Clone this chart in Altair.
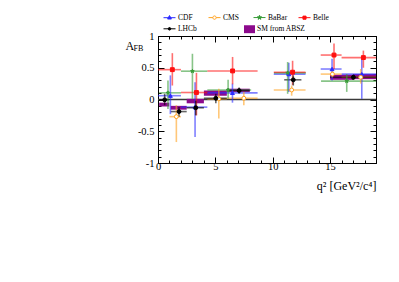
import altair as alt
import pandas as pd

# ---------------- data ----------------
EXPS = ["CDF", "CMS", "BaBar", "Belle", "LHCb"]
LINE_COLORS = ["#2b2bff", "#ffa21f", "#389c38", "#ff1010", "#000000"]
FILL_COLORS = ["#2b2bff", "#ffffff", "#389c38", "#ff1010", "#000000"]
SM_COLOR = "#8c0a8c"

# CDF
cdf_q = [1.08, 3.23, 6.49, 11.40, 15.17, 17.76]
cdf_A = [0.06, -0.12, 0.105, 0.40, 0.48, 0.40]
cdf_lo = [0.0, 2.0, 4.3, 10.09, 14.18, 16.0]
cdf_hi = [2.0, 4.3, 8.68, 12.86, 16.0, 19.0]
cdf_Alo = [-0.23, -0.59, -0.05, 0.12, 0.30, 0.01]
cdf_Ahi = [0.38, 0.27, 0.25, 0.58, 0.64, 0.64]

# CMS
cms_q = [1.60, 5.30, 7.48, 11.65, 15.20, 17.67]
cms_A = [-0.27, 0.01, 0.02, 0.15, 0.40, 0.35]
cms_lo = [1.0, 4.3, 6.0, 10.09, 14.18, 16.0]
cms_hi = [2.0, 6.0, 8.68, 12.86, 16.0, 19.0]
cms_Alo = [-0.67, -0.30, -0.09, 0.06, 0.35, 0.25]
cms_Ahi = [-0.09, 0.17, 0.12, 0.22, 0.45, 0.48]

# BaBar
bab_q = [0.87, 3.00, 6.11, 11.30, 16.45]
bab_A = [0.105, 0.446, 0.15, 0.42, 0.29]
bab_lo = [0.1, 2.0, 4.3, 10.11, 14.21]
bab_hi = [2.0, 4.3, 8.12, 12.89, 19.0]
bab_Alo = [-0.15, 0.01, 0.01, 0.09, 0.12]
bab_Ahi = [0.30, 0.72, 0.31, 0.59, 0.40]

# Belle
bel_q = [1.25, 3.35, 6.50, 11.73, 15.34, 17.90]
bel_A = [0.47, 0.11, 0.45, 0.43, 0.70, 0.66]
bel_lo = [0.0, 2.0, 4.3, 10.09, 14.18, 16.0]
bel_hi = [2.0, 4.3, 8.68, 12.86, 16.0, 19.0]
bel_Alo = [0.22, -0.25, 0.24, 0.23, 0.48, 0.50]
bel_Ahi = [0.73, 0.42, 0.67, 0.61, 0.88, 0.77]

# LHCb
lhc_q = [0.58, 1.83, 3.29, 5.04, 7.07, 11.79, 17.03]
lhc_A = [-0.005, -0.19, -0.13, 0.02, 0.14, 0.31, 0.35]
lhc_lo = [0.1, 1.1, 2.5, 4.0, 6.0, 11.0, 15.0]
lhc_hi = [0.98, 2.5, 4.0, 6.0, 8.0, 12.5, 19.0]
lhc_Alo = [-0.09, -0.27, -0.25, -0.06, 0.09, 0.22, 0.31]
lhc_Ahi = [0.09, -0.12, -0.02, 0.09, 0.19, 0.38, 0.39]

# SM prediction (ABSZ) bands
sm_lo = [0.1, 1.1, 2.5, 4.0, 6.0, 15.0, 17.0]
sm_hi = [0.98, 2.5, 4.0, 6.0, 8.0, 17.0, 19.0]
sm_Alo = [-0.11, -0.16, -0.06, 0.06, 0.12, 0.31, 0.32]
sm_Ahi = [-0.05, -0.10, 0.01, 0.14, 0.17, 0.39, 0.40]

X_MAJOR = [0, 5, 10, 15]
X_MINOR = list(range(0, 20))
Y_MAJOR = [-1, -0.5, 0, 0.5, 1]
Y_MINOR = [round(-1 + 0.1 * i, 1) for i in range(21)]

# ---------------- tables ----------------
rows = []
for name, q, a, lo, hi, alo, ahi in [
    ("CDF", cdf_q, cdf_A, cdf_lo, cdf_hi, cdf_Alo, cdf_Ahi),
    ("CMS", cms_q, cms_A, cms_lo, cms_hi, cms_Alo, cms_Ahi),
    ("BaBar", bab_q, bab_A, bab_lo, bab_hi, bab_Alo, bab_Ahi),
    ("Belle", bel_q, bel_A, bel_lo, bel_hi, bel_Alo, bel_Ahi),
    ("LHCb", lhc_q, lhc_A, lhc_lo, lhc_hi, lhc_Alo, lhc_Ahi),
]:
    for i in range(len(q)):
        rows.append(dict(exp=name, q=q[i], A=a[i], lo=lo[i], hi=hi[i],
                         Alo=alo[i], Ahi=ahi[i]))
df = pd.DataFrame(rows)
sm_df = pd.DataFrame(dict(model="SM from ABSZ", lo=sm_lo, hi=sm_hi,
                          Alo=sm_Alo, Ahi=sm_Ahi))
zero_df = pd.DataFrame(dict(A=[0.0]))
leg_df = pd.DataFrame(dict(exp=EXPS))

# ---------------- styling ----------------
FONT = "Liberation Serif"
W, H = 218, 127
X = alt.Scale(domain=[0, 19], nice=False, zero=False)
Y = alt.Scale(domain=[-1, 1], nice=False, zero=False)

PLOT_SHAPES = [
    "triangle-up", "circle",
    "M0,-1L0.24,-0.33L0.95,-0.31L0.38,0.12L0.59,0.81L0,0.4L-0.59,0.81L-0.38,0.12L-0.95,-0.31L-0.24,-0.33Z",
    "square", "circle",
]
LEG_SHAPES = [
    "M-1,0H1M0,-0.36L0.32,0.22L-0.32,0.22Z",
    "M-1,0H-0.28M0.28,0H1M0.28,0A0.28,0.28,0,1,1,-0.28,0A0.28,0.28,0,1,1,0.28,0Z",
    "M-1,0H1M0,-0.38L0.1,-0.12L0.36,-0.11L0.15,0.05L0.22,0.3L0,0.15L-0.22,0.3L-0.15,0.05L-0.36,-0.11L-0.1,-0.12Z",
    "M-1,0H1M-0.26,-0.26H0.26V0.26H-0.26Z",
    "M-1,0H1M0.22,0A0.22,0.22,0,1,1,-0.22,0A0.22,0.22,0,1,1,0.22,0Z",
]
RECT_PATH = "M-1,-0.72H1V0.72H-1Z"


def axis(orient, values, size, labels=False, **kw):
    base = dict(orient=orient, values=values, tickSize={"expr": str(-size)},
                tickColor="black", tickWidth=1, domain=False, grid=False,
                labels=labels, labelOverlap=False, labelFlush=False)
    if labels:
        base.update(labelFont=FONT, labelFontSize=10.5, labelColor="black",
                    labelExpr="toString(datum.value)")
    base.update(kw)
    if "title" not in base:
        base["title"] = None
    return alt.Axis(**base)


x_bottom_major = axis("bottom", X_MAJOR, 6, labels=True, labelPadding=4,
                      title="q² [GeV²/c⁴]", titleFont=FONT, titleFontSize=12,
                      titleFontWeight="normal", titleColor="black",
                      titleAnchor="end", titleAlign="right", titleX=W,
                      titleY=26, titleBaseline="alphabetic")
x_bottom_minor = axis("bottom", X_MINOR, 3)
x_top_major = axis("top", X_MAJOR, 6)
x_top_minor = axis("top", X_MINOR, 3)
y_left_major = axis("left", Y_MAJOR, 6, labels=True, labelPadding=10,
                    title="A", titleFont=FONT, titleFontSize=12,
                    titleFontWeight="normal", titleColor="black", titleAngle=0,
                    titleAlign="left", titleBaseline="middle",
                    titleX=-33, titleY=9)
y_left_minor = axis("left", Y_MINOR, 3, title="FB", titleFont=FONT,
                    titleFontSize=8, titleFontWeight="normal",
                    titleColor="black", titleAngle=0, titleAlign="left",
                    titleBaseline="middle", titleX=-25, titleY=12)
y_right_major = axis("right", Y_MAJOR, 6)
y_right_minor = axis("right", Y_MINOR, 3)

stroke_scale = alt.Scale(domain=EXPS, range=LINE_COLORS)
fill_scale = alt.Scale(domain=EXPS, range=FILL_COLORS)

zero = alt.Chart(zero_df).mark_rule(color="#3a3a3a", strokeWidth=1.3).encode(
    y=alt.Y("A:Q", scale=Y, axis=None)
)

sm = alt.Chart(sm_df).mark_rect(opacity=1).encode(
    x=alt.X("lo:Q", scale=X, axis=x_bottom_major),
    x2="hi:Q",
    y=alt.Y("Alo:Q", scale=Y, axis=y_left_major),
    y2="Ahi:Q",
    fill=alt.Fill("model:N",
                  scale=alt.Scale(domain=["SM from ABSZ"], range=[SM_COLOR]),
                  legend=alt.Legend(orient="none", legendX=86, legendY=-12.3,
                                    title=None, symbolType=RECT_PATH,
                                    symbolSize=121, labelOffset=2,
                                    labelFontSize=7.5,
                                    symbolStrokeWidth=0, padding=0)),
)

hbars = alt.Chart(df).mark_rule(strokeWidth=1.6, opacity=0.6).encode(
    x=alt.X("lo:Q", scale=X, axis=x_bottom_minor),
    x2="hi:Q",
    y=alt.Y("A:Q", scale=Y, axis=y_left_minor),
    stroke=alt.Stroke("exp:N", scale=stroke_scale, legend=None),
)

vbars = alt.Chart(df).mark_rule(strokeWidth=1.6, opacity=0.6).encode(
    x=alt.X("q:Q", scale=X, axis=x_top_major),
    y=alt.Y("Alo:Q", scale=Y, axis=y_right_major),
    y2="Ahi:Q",
    stroke=alt.Stroke("exp:N", scale=stroke_scale, legend=None),
)

points = alt.Chart(df).mark_point(filled=True, opacity=1, strokeWidth=1,
                                  size=15).encode(
    x=alt.X("q:Q", scale=X, axis=x_top_minor),
    y=alt.Y("A:Q", scale=Y, axis=y_right_minor),
    fill=alt.Fill("exp:N", scale=fill_scale, legend=None),
    stroke=alt.Stroke("exp:N", scale=stroke_scale, legend=None),
    shape=alt.Shape("exp:N", scale=alt.Scale(domain=EXPS, range=PLOT_SHAPES),
                    legend=None),
)

exp_legend = alt.Legend(orient="none", legendX=5, legendY=-25.3, title=None,
                        direction="horizontal", columns=4, gridAlign="all",
                        symbolSize=144, labelOffset=2, columnPadding=8,
                        rowPadding=0.6, symbolStrokeWidth=1, padding=0,
                        labelFontSize=7.5)

legend_layer = alt.Chart(leg_df).transform_filter("false").mark_point(
    filled=True, opacity=1, strokeWidth=1, size=144
).encode(
    fill=alt.Fill("exp:N", scale=fill_scale, legend=exp_legend),
    stroke=alt.Stroke("exp:N", scale=stroke_scale, legend=exp_legend),
    shape=alt.Shape("exp:N", scale=alt.Scale(domain=EXPS, range=LEG_SHAPES),
                    legend=exp_legend),
)

chart = alt.layer(zero, sm, hbars, vbars, points, legend_layer).resolve_scale(
    fill="independent", stroke="independent", shape="independent"
).resolve_axis(
    x="independent", y="independent"
).properties(
    width=W, height=H, autosize="none",
    padding={"left": 150, "top": 28, "right": 10, "bottom": 40},
    background="white",
).configure_view(
    stroke="black", strokeWidth=1
).configure_legend(
    labelFont=FONT, labelFontSize=7.5, labelColor="black", padding=0
)

chart.save("out.html", embed_options={"renderer": "svg", "actions": False})
